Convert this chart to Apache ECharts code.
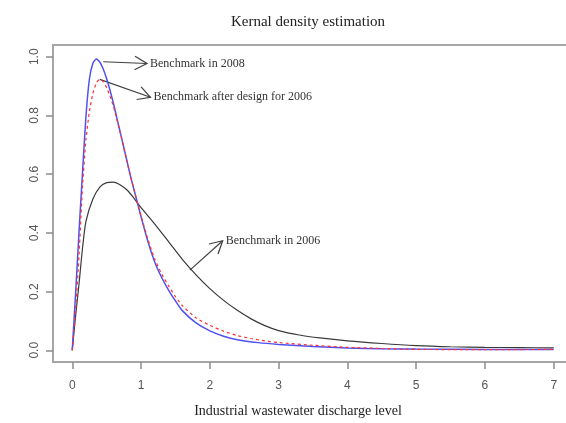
<!DOCTYPE html>
<html>
<head>
<meta charset="utf-8">
<script src="https://cdn.jsdelivr.net/npm/echarts@6/dist/echarts.min.js"></script>
<style>html,body{margin:0;padding:0;background:#fff}#c{width:566px;height:423px}</style>
</head>
<body>
<div id="c"></div>
<script>
// ---- data ----
var xTicks = [0, 1, 2, 3, 4, 5, 6, 7];
var yTicks = [0, 0.2, 0.4, 0.6, 0.8, 1.0];

var bench2006X = [0, 0.05, 0.1, 0.15, 0.2, 0.3, 0.4, 0.5, 0.6, 0.7, 0.8, 0.9, 1.0, 1.2, 1.4, 1.6, 1.8, 2.0, 2.2, 2.4, 2.6, 2.8, 3.0, 3.3, 3.6, 4.0, 4.5, 5.0, 5.5, 6.0, 6.5, 7.0];
var bench2006Y = [0, 0.12, 0.23, 0.35, 0.44, 0.515, 0.556, 0.571, 0.573, 0.563, 0.545, 0.517, 0.486, 0.43, 0.37, 0.31, 0.257, 0.21, 0.17, 0.136, 0.107, 0.084, 0.067, 0.052, 0.042, 0.032, 0.023, 0.016, 0.012, 0.010, 0.009, 0.008];

var bench2008X = [0, 0.05, 0.1, 0.15, 0.2, 0.25, 0.3, 0.35, 0.4, 0.45, 0.5, 0.55, 0.6, 0.65, 0.7, 0.75, 0.8, 0.85, 0.9, 0.95, 1.0, 1.1, 1.2, 1.3, 1.4, 1.5, 1.6, 1.8, 2.0, 2.2, 2.4, 2.7, 3.0, 3.5, 4.0, 4.5, 5.0, 6.0, 7.0];
var bench2008Y = [0, 0.2, 0.41, 0.61, 0.8, 0.925, 0.978, 0.992, 0.982, 0.958, 0.925, 0.885, 0.84, 0.79, 0.74, 0.69, 0.64, 0.59, 0.545, 0.5, 0.455, 0.37, 0.3, 0.248, 0.205, 0.168, 0.135, 0.093, 0.066, 0.048, 0.036, 0.026, 0.02, 0.013, 0.008, 0.005, 0.004, 0.003, 0.003];

var designX = [0, 0.05, 0.1, 0.15, 0.2, 0.25, 0.3, 0.35, 0.4, 0.45, 0.5, 0.55, 0.6, 0.65, 0.7, 0.75, 0.8, 0.85, 0.9, 0.95, 1.0, 1.1, 1.2, 1.3, 1.4, 1.5, 1.6, 1.8, 2.0, 2.2, 2.4, 2.6, 2.8, 3.0, 3.5, 4.0, 4.5, 5.0, 6.0, 7.0];
var designY = [0, 0.14, 0.33, 0.56, 0.72, 0.815, 0.875, 0.91, 0.923, 0.915, 0.895, 0.865, 0.83, 0.785, 0.74, 0.69, 0.64, 0.59, 0.545, 0.5, 0.458, 0.378, 0.31, 0.26, 0.22, 0.183, 0.152, 0.11, 0.085, 0.065, 0.05, 0.04, 0.032, 0.026, 0.017, 0.01, 0.006, 0.003, 0.002, 0.003];

var titleText = "Kernal density estimation";
var xName = "Industrial wastewater discharge level";

// annotations: [fromX, fromY, tipX, tipY, label]
var notes = [
  [0.45, 0.983, 1.087, 0.977, "Benchmark in 2008"],
  [0.40, 0.923, 1.137, 0.862, "Benchmark after design for 2006"],
  [1.71, 0.273, 2.187, 0.373, "Benchmark in 2006"]
];

function pairs(xs, ys) { return xs.map(function (x, i) { return [x, ys[i]]; }); }

var chart = echarts.init(document.getElementById('c'), null, {renderer: 'canvas'});
var axisGray = '#8c8c8c';
var option = {
  animation: false,
  backgroundColor: '#fff',
  title: [{
    text: titleText, left: 303, top: 10, textAlign: 'center',
    textStyle: {fontFamily: 'Liberation Serif', fontSize: 15, fontWeight: 'normal', color: '#222'}
  }, {
    text: xName, left: 293, top: 399, textAlign: 'center',
    textStyle: {fontFamily: 'Liberation Serif', fontSize: 14, fontWeight: 'normal', color: '#222'}
  }],
  grid: {left: 53, top: 45, width: 520, height: 317, outerBoundsMode: 'none', containLabel: false,
         show: true, borderColor: '#a6a6a6', borderWidth: 2, backgroundColor: 'transparent'},
  xAxis: {
    type: 'value', min: -0.28, max: 7.28,
    axisLine: {show: false, onZero: false}, splitLine: {show: false},
    axisTick: {show: true, length: 7, inside: false, customValues: xTicks, lineStyle: {color: axisGray, width: 1.5}},
    axisLabel: {customValues: xTicks, margin: 18, fontFamily: 'Liberation Sans', fontSize: 12, color: '#555'}
  },
  yAxis: {
    type: 'value', min: -0.04, max: 1.04,
    axisLine: {show: false, onZero: false}, splitLine: {show: false},
    axisTick: {show: true, length: 7, inside: false, customValues: yTicks, lineStyle: {color: axisGray, width: 1.5}},
    axisLabel: {customValues: yTicks, rotate: 90, margin: 12, fontFamily: 'Liberation Sans', fontSize: 12, color: '#555',
      formatter: function (v) { return v.toFixed(1); }}
  },
  series: [
    {type: 'line', data: pairs(bench2006X, bench2006Y), showSymbol: false, smooth: 0.25,
     lineStyle: {color: '#3a3a3a', width: 1.2}},
    {type: 'line', data: pairs(bench2008X, bench2008Y), showSymbol: false, smooth: 0.2,
     lineStyle: {color: '#5050f0', width: 1.5}},
    {type: 'line', data: pairs(designX, designY), showSymbol: false, smooth: 0.2,
     lineStyle: {color: '#ff3030', width: 1.2, type: [3, 3]}}
  ]
};
chart.setOption(option);

function drawNotes() {
  var els = [];
  notes.forEach(function (n) {
    var a = chart.convertToPixel({gridIndex: 0}, [n[0], n[1]]);
    var b = chart.convertToPixel({gridIndex: 0}, [n[2], n[3]]);
    var ang = Math.atan2(b[1] - a[1], b[0] - a[0]);
    var L = 14, spread = 0.5;
    var p1 = [b[0] - L * Math.cos(ang - spread), b[1] - L * Math.sin(ang - spread)];
    var p2 = [b[0] - L * Math.cos(ang + spread), b[1] - L * Math.sin(ang + spread)];
    var st = {stroke: '#404040', lineWidth: 1.2, fill: null};
    els.push({type: 'line', shape: {x1: a[0], y1: a[1], x2: b[0], y2: b[1]}, style: st, silent: true});
    els.push({type: 'polyline', shape: {points: [p1, b, p2]}, style: st, silent: true});
    els.push({type: 'text', x: b[0] + 3, y: b[1], silent: true,
      style: {text: n[4], fontFamily: 'Liberation Serif', fontSize: 12, fill: '#333', verticalAlign: 'middle', align: 'left'}});
  });
  chart.setOption({graphic: {elements: els}});
}
drawNotes();
</script>
</body>
</html>
